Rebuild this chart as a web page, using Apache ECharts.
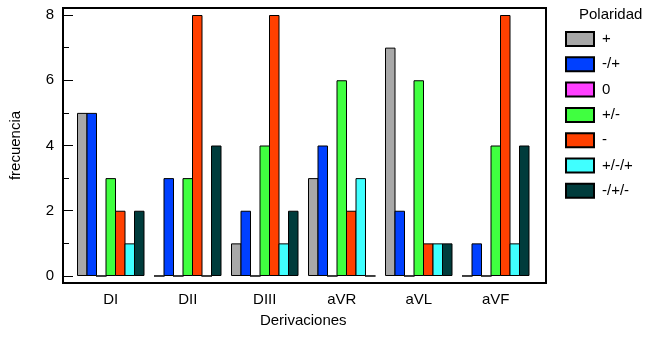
<!DOCTYPE html>
<html>
<head>
<meta charset="utf-8">
<script src="https://cdn.jsdelivr.net/npm/echarts@6/dist/echarts.min.js"></script>
<style>
  html, body { margin: 0; padding: 0; background: #ffffff; }
  #chart { width: 650px; height: 338px; }
</style>
</head>
<body>
<div id="chart"></div>
<script>
// Lead categories (ECG derivations)
const derivaciones = ['DI', 'DII', 'DIII', 'aVR', 'aVL', 'aVF'];

// Polarity classes and their counts per derivation
const polaridades = ['+', '-/+', '0', '+/-', '-', '+/-/+', '-/+/-'];
const positiva       = [5, 0, 1, 3, 7, 0];
const negPos         = [5, 3, 2, 4, 2, 1];
const cero           = [0, 0, 0, 0, 0, 0];
const posNeg         = [3, 3, 4, 6, 6, 4];
const negativa       = [2, 8, 8, 2, 1, 8];
const posNegPos      = [1, 0, 1, 3, 1, 1];
const negPosNeg      = [2, 4, 2, 0, 1, 4];
const valores = [positiva, negPos, cero, posNeg, negativa, posNegPos, negPosNeg];

// Y axis ticks
const majorTicks = [0, 2, 4, 6, 8];
const minorTicks = [1, 3, 5, 7];

const colores = ['#a8a8a8', '#0040ff', '#ff40ff', '#40ff40', '#ff4000', '#40ffff', '#003c3c'];

const FONT = 'Liberation Sans, Arial, sans-serif';
// small padding above 8 and below 0 inside the frame
const Y_MIN = -0.2146;
const Y_MAX = 8.2146;

// bars overlap by one border width so neighbouring bars share an outline
const BAR_W = 10.5;
const BAR_GAP = (-100 / BAR_W).toFixed(4) + '%';

const chart = echarts.init(document.getElementById('chart'), null, { renderer: 'canvas' });

const series = polaridades.map((name, i) => ({
  name: name,
  type: 'bar',
  xAxisIndex: 0,
  yAxisIndex: 0,
  data: valores[i],
  barGap: BAR_GAP,
  barWidth: BAR_W,
  itemStyle: { color: colores[i], borderColor: '#000', borderWidth: 1 },
  emphasis: { disabled: true },
  animation: false
}));

chart.setOption({
  animation: false,
  title: {
    text: 'Polaridad',
    left: 579,
    top: 7,
    padding: 0,
    textStyle: { fontFamily: FONT, fontSize: 15, fontWeight: 'normal', color: '#000' }
  },
  legend: {
    orient: 'vertical',
    left: 565,
    top: 31,
    padding: 0,
    itemWidth: 28,
    itemHeight: 14,
    itemGap: 9.3,
    icon: 'rect',
    selectedMode: false,
    data: polaridades,
    textStyle: { fontFamily: FONT, fontSize: 15, color: '#000', padding: [0, 0, 0, 3] }
  },
  grid: [
    // bars area
    { left: 72.25, right: 115.75, top: 8, bottom: 55, containLabel: false },
    // framed plot box carrying the y axis
    { left: 59, right: 104, top: 8, bottom: 55, show: true, borderColor: '#000', borderWidth: 2, backgroundColor: 'transparent' }
  ],
  xAxis: [
    {
      type: 'category',
      gridIndex: 0,
      data: derivaciones,
      axisLine: { show: false },
      axisTick: { show: false },
      axisLabel: { interval: 0, fontFamily: FONT, fontSize: 15, color: '#000', margin: 9 },
      name: 'Derivaciones',
      nameLocation: 'middle',
      nameGap: 30,
      nameTextStyle: { fontFamily: FONT, fontSize: 15, color: '#000' }
    },
    {
      type: 'value',
      gridIndex: 1,
      show: false
    }
  ],
  yAxis: [
    {
      type: 'value',
      gridIndex: 0,
      min: Y_MIN,
      max: Y_MAX,
      show: false
    },
    {
      type: 'value',
      gridIndex: 1,
      min: Y_MIN,
      max: Y_MAX,
      axisLine: { show: false },
      splitLine: { show: false },
      axisTick: { show: true, inside: true, length: 10, customValues: majorTicks, lineStyle: { color: '#000', width: 1 } },
      axisLabel: { customValues: majorTicks, fontFamily: FONT, fontSize: 15, color: '#000', margin: 9 },
      name: 'frecuencia',
      nameLocation: 'middle',
      nameRotate: 90,
      nameGap: 40,
      nameTextStyle: { fontFamily: FONT, fontSize: 15, color: '#000' }
    },
    {
      type: 'value',
      gridIndex: 1,
      min: Y_MIN,
      max: Y_MAX,
      position: 'left',
      axisLine: { show: false },
      splitLine: { show: false },
      axisTick: { show: true, inside: true, length: 6, customValues: minorTicks, lineStyle: { color: '#000', width: 1 } },
      axisLabel: { show: false }
    }
  ],
  series: series
});
</script>
</body>
</html>
